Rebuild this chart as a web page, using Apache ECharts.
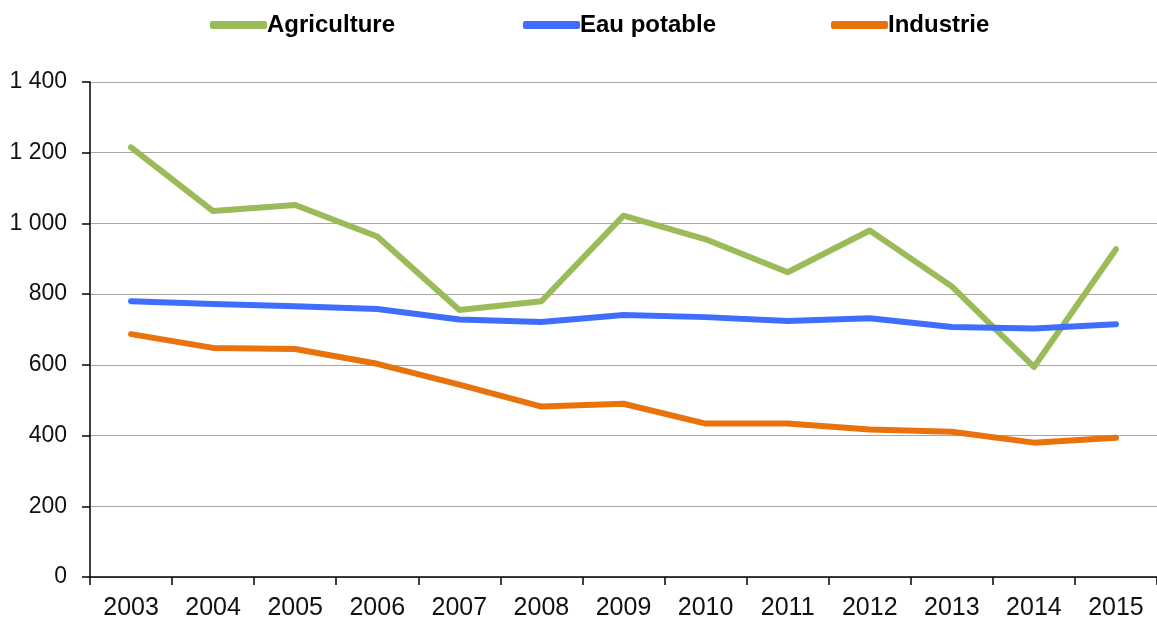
<!DOCTYPE html>
<html>
<head>
<meta charset="utf-8">
<script src="https://cdn.jsdelivr.net/npm/echarts@6/dist/echarts.min.js"></script>
<style>html,body{margin:0;padding:0;background:#fff}#c{width:1157px;height:621px}</style>
</head>
<body>
<div id="c"></div>
<script>
var years = ['2003','2004','2005','2006','2007','2008','2009','2010','2011','2012','2013','2014','2015'];
var agriculture = [1215, 1035, 1052, 963, 755, 780, 1022, 955, 862, 980, 822, 594, 927];
var eauPotable = [780, 772, 766, 758, 728, 721, 741, 735, 724, 732, 707, 703, 715];
var industrie = [687, 648, 645, 603, 544, 482, 490, 434, 434, 417, 411, 380, 394];
var seriesNames = ['Agriculture', 'Eau potable', 'Industrie'];
var colors = ['#9BBB59', '#3F6EFC', '#E8730C'];

var chart = echarts.init(document.getElementById('c'));
var font = 'Liberation Sans, Arial, sans-serif';
function legendFor(name, left) {
  return {
    data: [name], left: left, top: 13, itemWidth: 57, itemHeight: 8, icon: 'roundRect',
    itemGap: 0, padding: 0,
    textStyle: { fontFamily: font, fontSize: 24, fontWeight: 'bold', color: '#000', padding: [0, 0, 0, -5] }
  };
}
var datasets = [agriculture, eauPotable, industrie];
chart.setOption({
  animation: false,
  color: colors,
  legend: [legendFor(seriesNames[0], 210), legendFor(seriesNames[1], 523), legendFor(seriesNames[2], 831)],
  grid: { left: 90, right: 0, top: 82, bottom: 42, containLabel: false },
  xAxis: {
    type: 'category', data: years, boundaryGap: true,
    axisLine: { lineStyle: { color: '#000', width: 1.5 } },
    axisTick: { show: true, length: 8, lineStyle: { color: '#000', width: 1.5 } },
    axisLabel: { fontFamily: font, fontSize: 25, color: '#111', margin: 19 }
  },
  yAxis: {
    type: 'value', min: 0, max: 1400, interval: 200,
    axisLine: { show: true, lineStyle: { color: '#000', width: 1.5 } },
    axisTick: { show: true, length: 8, lineStyle: { color: '#000', width: 1.5 } },
    splitLine: { lineStyle: { color: '#A6A6A6', width: 1.2 } },
    axisLabel: {
      fontFamily: font, fontSize: 23, color: '#111', margin: 23,
      formatter: function (v) { return String(v).replace(/\B(?=(\d{3})+(?!\d))/g, ' '); }
    }
  },
  series: datasets.map(function (d, i) {
    return {
      name: seriesNames[i], type: 'line', data: d, symbol: 'none',
      lineStyle: { width: 6, color: colors[i], cap: 'round', join: 'round' },
      itemStyle: { color: colors[i] }
    };
  })
});
</script>
</body>
</html>
